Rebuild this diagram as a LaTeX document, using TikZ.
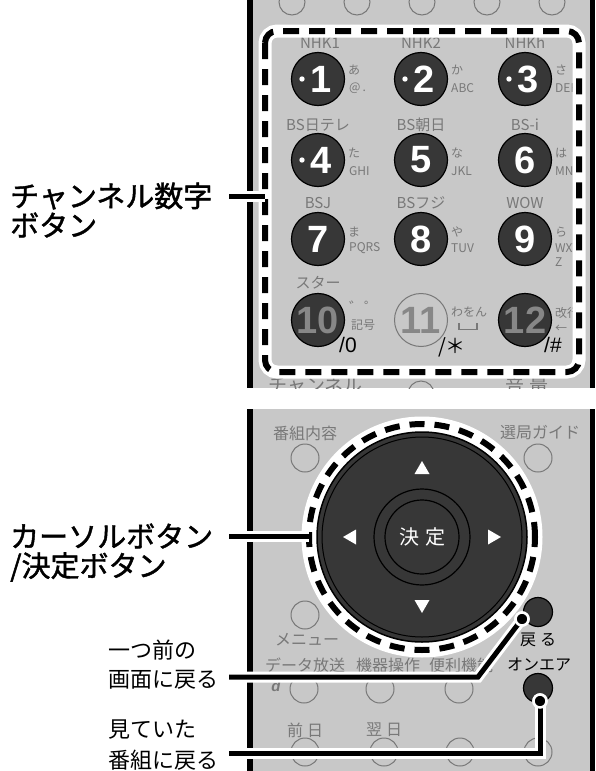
\documentclass[tikz,border=0pt]{standalone}
\usepackage{fontspec}
\setmainfont{Liberation Sans}
\newfontfamily\jp{Noto Sans CJK JP}
\newfontfamily\jpb{Noto Sans CJK JP}[FakeBold=1.5]
\usetikzlibrary{calc}
\definecolor{panel}{RGB}{200,200,200}
\definecolor{btn}{RGB}{55,55,55}
\definecolor{gtxt}{RGB}{120,120,120}
\definecolor{gdig}{RGB}{135,135,135}
\begin{document}
\begin{tikzpicture}[x=1pt,y=-1pt,
  numbtn/.style={circle,fill=btn,draw=black,line width=1.2pt,minimum size=53pt,inner sep=0pt,text=white,font=\fontsize{38}{38}\selectfont\bfseries},
  lightnum/.style={circle,draw=gtxt,line width=1pt,minimum size=53pt,inner sep=0pt,text=gdig,font=\fontsize{38}{38}\selectfont\bfseries},
  glbl/.style={font=\jp\fontsize{15}{15}\selectfont,text=gtxt,inner sep=0pt},
  side/.style={font=\jp\fontsize{12}{12}\selectfont,text=gtxt,inner sep=0pt,anchor=west},
  slash/.style={font=\fontsize{21}{21}\selectfont,text=black,inner sep=0pt},
  bigl/.style={font=\jpb\fontsize{29}{29}\selectfont,inner sep=0pt,anchor=west},
  smalll/.style={font=\jp\fontsize{22}{22}\selectfont,inner sep=0pt,anchor=west},
  rtxt/.style={font=\jp\fontsize{16}{16}\selectfont,text=gtxt,inner sep=0pt},
  btxt/.style={font=\jp\fontsize{16}{16}\selectfont,text=black,inner sep=0pt},
  lightbtn/.style={circle,draw=gtxt,line width=1pt,minimum size=28pt,inner sep=0pt},
  darkbtn/.style={circle,fill=btn,draw=black,line width=1.2pt,minimum size=29pt,inner sep=0pt},
  halo/.style={white,line width=11pt},
  conn/.style={black,line width=5pt},
  dotnode/.style={circle,fill=black,draw=white,line width=2.5pt,minimum size=13pt,inner sep=0pt},
  dashhalo/.style={white,line width=13pt},
  dashline/.style={black,line width=6pt,dash pattern=on 16pt off 10pt}
]
\useasboundingbox (0,0) rectangle (595,771);

%================ TOP PANEL =================
\begin{scope}
\clip (253,0) rectangle (590,388);
\fill[panel] (253,0) rectangle (590,388);
\foreach \cx/\nm in {292/t1,357/t2,422/t3,487/t4,552/t5}
  \node[lightbtn,minimum size=26pt] (\nm) at (\cx,2) {};
\node[rtxt,font=\jp\fontsize{19}{19}\selectfont,anchor=north west] (chtxt) at (268,377) {チャンネル};
\node[rtxt,font=\jp\fontsize{19}{19}\selectfont,anchor=north] (voltxt) at (527,377) {音 量};
\node[lightbtn,minimum size=26pt] (tb) at (421,394) {};

% number buttons
\node[numbtn] (b1) at (318,79) {\hspace{7pt}1};
\node[numbtn] (b2) at (421,79) {\hspace{7pt}2};
\node[numbtn] (b3) at (525,79) {\hspace{7pt}3};
\node[numbtn] (b4) at (318,160) {\hspace{7pt}4};
\node[numbtn] (b5) at (421,160) {5};
\node[numbtn] (b6) at (525,160) {6};
\node[numbtn] (b7) at (318,239) {7};
\node[numbtn] (b8) at (421,239) {8};
\node[numbtn] (b9) at (525,239) {9};
\node[numbtn,text=gdig] (b10) at (318,320) {10};
\node[lightnum] (b11) at (421,320) {11};
\node[numbtn,text=gdig] (b12) at (525,320) {12};
\foreach \b in {b1,b2,b3,b4}
  \fill[white] ($(\b.center)+(-16,0)$) circle (2.7pt);

% labels above
\node[glbl] (l1) at (320,43) {NHK1};
\node[glbl] (l2) at (421,43) {NHK2};
\node[glbl] (l3) at (525,43) {NHKh};
\node[glbl] (l4) at (318,125) {BS日テレ};
\node[glbl] (l5) at (421,125) {BS朝日};
\node[glbl] (l6) at (525,125) {BS-i};
\node[glbl] (l7) at (318,203) {BSJ};
\node[glbl] (l8) at (421,203) {BSフジ};
\node[glbl] (l9) at (525,203) {WOW};
\node[glbl] (l10) at (318,283) {スター};

% side labels
\node[side] (s1a) at (348,70) {あ};
\node[side] (s1b) at (349,88) {@\,.};
\node[side] (s2a) at (451,70) {か};
\node[side] (s2b) at (451,88) {ABC};
\node[side] (s3a) at (555,70) {さ};
\node[side] (s3b) at (555,88) {DEF};
\node[side] (s4a) at (348,153) {た};
\node[side] (s4b) at (349,171) {GHI};
\node[side] (s5a) at (451,153) {な};
\node[side] (s5b) at (451,171) {JKL};
\node[side] (s6a) at (555,153) {は};
\node[side] (s6b) at (555,171) {MNO};
\node[side] (s7a) at (348,232) {ま};
\node[side] (s7b) at (349,248) {PQRS};
\node[side] (s8a) at (451,232) {や};
\node[side] (s8b) at (451,248) {TUV};
\node[side] (s9a) at (555,232) {ら};
\node[side] (s9b) at (555,248) {WXY};
\node[side] (s9c) at (555,262) {Z};
\node[side,font=\jp\fontsize{15}{15}\selectfont] (s10a) at (349,307) {゛゜};
\node[side] (s10b) at (351,325) {記号};
\node[side] (s11a) at (451,312) {わをん};
\draw[gtxt,line width=1.2pt] (459,323) -- (459,329.5) -- (477,329.5) -- (477,323);
\node[side] (s12a) at (555,313) {改行};
\node[side] (s12b) at (555,329) {←};
\node[slash] (sl10) at (348,345) {/0};
\node[slash,font=\jp\fontsize{20}{20}\selectfont] (sl11) at (452,347) {/＊};
\node[slash] (sl12) at (553,345) {/\#};

% dashed frame
\draw[dashhalo,rounded corners=12pt] (265,31) rectangle (579,372);
\draw[dashline,rounded corners=12pt] (265,31) rectangle (579,372);
\coordinate (e0) at (265,196);
\end{scope}
\fill[black] (247,0) rectangle (253,388);
\fill[black] (590,0) rectangle (595,388);

%================ BOTTOM PANEL =================
\begin{scope}
\clip (253,409) rectangle (590,771);
\fill[panel] (253,409) rectangle (590,771);
\node[rtxt] (bnai) at (305,433) {番組内容};
\node[rtxt] (sgd) at (540,433) {選局ガイド};
\node[lightbtn] (cb1) at (305,458) {};
\node[lightbtn] (cb2) at (538,458) {};
\node[lightbtn] (cmenu) at (305,615) {};
\node[rtxt] (menu) at (307,640) {メニュー};
\node[btxt] (modoru) at (538,640) {戻\hspace{4pt}る};
\node[btxt] (onair) at (539,665) {オンエア};
\node[rtxt] (data) at (305,665) {データ放送};
\node[rtxt] (kiki) at (388,665) {機器操作};
\node[rtxt] (benri) at (461,665) {便利機能};
\node[font=\fontsize{15}{15}\selectfont\bfseries\itshape,text=gtxt,inner sep=0pt] (dlogo) at (276,686) {d};
\node[lightbtn] (cd1) at (304,689) {};
\node[lightbtn] (cd2) at (380,689) {};
\node[lightbtn] (cd3) at (459,689) {};
\node[rtxt] (zen) at (305,730) {前\hspace{4pt}日};
\node[rtxt] (yoku) at (384,730) {翌\hspace{4pt}日};
\foreach \cx/\nm in {305/ce1,384/ce2,460/ce3,538/ce4}
  \node[lightbtn] (\nm) at (\cx,752) {};
\node[darkbtn] (bback) at (538,612) {};
\node[darkbtn] (bonair) at (538,688) {};

% d-pad
\draw[dashhalo,line width=16pt] (422,537) circle (112.5pt);
\node[circle,fill=btn,draw=black,line width=1.5pt,minimum size=210pt,inner sep=0pt] (dpadin) at (422,537) {};
\draw[black,line width=1pt] (dpadin.center) circle (100pt);
\draw[black,line width=1.2pt] (dpadin.center) circle (48pt);
\node[circle,draw=black,line width=1.2pt,minimum size=74pt,inner sep=0pt,text=white,font=\jp\fontsize{20}{20}\selectfont] (ok) at (dpadin.center) {決\hspace{6pt}定};
\fill[white] (422,461) -- (429.5,474) -- (414.5,474) -- cycle;
\fill[white] (422,613) -- (429.5,600) -- (414.5,600) -- cycle;
\fill[white] (343,537) -- (356,529.5) -- (356,544.5) -- cycle;
\fill[white] (501,537) -- (488,529.5) -- (488,544.5) -- cycle;
\node[circle,minimum size=226pt,inner sep=0pt] (dpad) at (422,537) {};
\draw[black,line width=6pt,dash pattern=on 15pt off 10pt] (422,537) circle (113pt);
\end{scope}
\fill[black] (247,409) rectangle (253,771);
\fill[black] (590,409) rectangle (595,771);

%================ LABELS =================
\node[bigl] (ch1) at (10,196) {チャンネル数字};
\node[bigl] (ch2) at (10,225) {ボタン};
\node[bigl] (cu1) at (10,536) {カーソルボタン};
\node[bigl] (cu2) at (10,567) {/決定ボタン};
\node[smalll] (bk1) at (108,650) {一つ前の};
\node[smalll] (bk2) at (108,680) {画面に戻る};
\node[smalll] (oa1) at (108,730) {見ていた};
\node[smalll] (oa2) at (108,760) {番組に戻る};

%================ CONNECTORS =================
\coordinate (s0) at (229,196);
\coordinate (s3) at (229,536);
\coordinate (s1) at (229,677);
\coordinate (k1) at (478,677);
\coordinate (s2) at (229,753);
\coordinate (k2) at (540,753);
\node[dotnode] (d1) at (522,619) {};
\node[dotnode] (d2) at (540,701) {};

\draw[halo] (s0) -- (e0);
\draw[conn] (s0) -- (e0);
\draw[halo] (s3) -- (s3 -| dpad.west);
\draw[conn] (s3) -- (s3 -| dpad.west);
\draw[halo] (s1) -- (k1) -- (d1.center);
\draw[conn] (s1) -- (k1) -- (d1.center);
\draw[halo] (s2) -- (k2) -- (d2.center);
\draw[conn] (s2) -- (k2) -- (d2.center);
\node[dotnode] at (d1) {};
\node[dotnode] at (d2) {};
\end{tikzpicture}
\end{document}
